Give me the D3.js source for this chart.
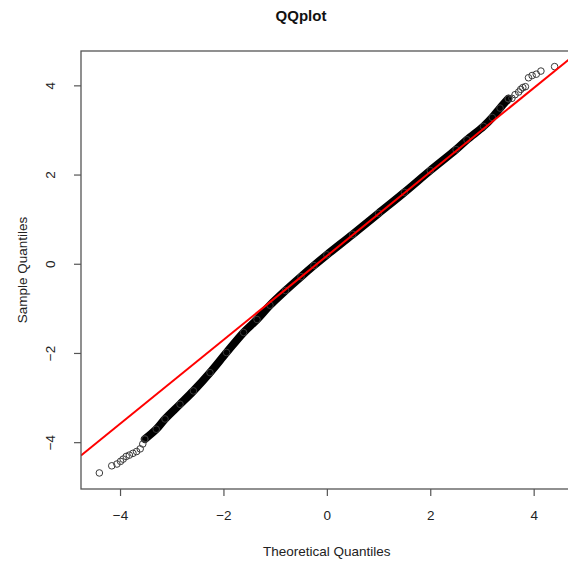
<!DOCTYPE html>
<html>
<head>
<meta charset="utf-8">
<script src="https://cdn.jsdelivr.net/npm/d3@7"></script>
<style>
  body { margin: 0; background: #fff; }
  text { font-family: "Liberation Sans", Arial, Helvetica, sans-serif; }
</style>
</head>
<body>
<div id="chart"></div>
<script>
// Tail points (theoretical, sample)
const lowerTailX = [-4.40, -4.16, -4.06, -3.99, -3.94, -3.88, -3.82, -3.75, -3.68, -3.61, -3.56, -3.52];
const lowerTailY = [-4.69, -4.53, -4.49, -4.43, -4.38, -4.32, -4.29, -4.25, -4.21, -4.15, -4.04, -3.93];
const upperTailX = [3.51, 3.58, 3.64, 3.71, 3.75, 3.79, 3.84, 3.90, 3.97, 4.05, 4.14, 4.405];
const upperTailY = [3.70, 3.71, 3.79, 3.85, 3.91, 3.95, 3.97, 4.17, 4.22, 4.25, 4.32, 4.42];

// Dense band of overlapping points (centre of band)
const bandX = [-3.52, -3.30, -3.13, -2.84, -2.58, -2.26, -1.94, -1.61, -1.35, -1.10, -0.80, -0.50, -0.25, 0.00, 0.50, 1.00, 1.50, 2.00, 2.50, 2.71, 3.03, 3.20, 3.35, 3.51];
const bandY = [-3.93, -3.71, -3.48, -3.15, -2.85, -2.44, -1.99, -1.54, -1.25, -0.93, -0.60, -0.29, -0.04, 0.20, 0.66, 1.13, 1.60, 2.09, 2.56, 2.78, 3.08, 3.28, 3.49, 3.70];

// qqline: intercept and slope
const lineIntercept = 0.175;
const lineSlope = 0.941;

const xTicks = [-4, -2, 0, 2, 4];
const yTicks = [-4, -2, 0, 2, 4];
const title = 'QQplot';
const xLabel = 'Theoretical Quantiles';
const yLabel = 'Sample Quantiles';

const widthContainer = 568;
const heightContainer = 564;
const plot = {left: 81, top: 51, right: 572.7, bottom: 489};

const svg = d3.select('#chart')
  .append('svg')
  .attr('width', widthContainer)
  .attr('height', heightContainer);

const xScale = d3.scaleLinear()
  .domain([-4.755, 4.755])
  .range([plot.left, plot.right]);

const yScale = d3.scaleLinear()
  .domain([-5.05, 4.77])
  .range([plot.bottom, plot.top]);

svg.append('clipPath')
  .attr('id', 'clip')
  .append('rect')
  .attr('x', plot.left)
  .attr('y', plot.top)
  .attr('width', plot.right - plot.left)
  .attr('height', plot.bottom - plot.top);

const layer = svg.append('g').attr('clip-path', 'url(#clip)');

// Band
const bandData = bandX.map((x, i) => ({x: x, y: bandY[i]}));
layer.append('path')
  .datum(bandData)
  .attr('fill', 'none')
  .attr('stroke', '#000')
  .attr('stroke-width', 8)
  .attr('stroke-linecap', 'round')
  .attr('stroke-linejoin', 'round')
  .attr('d', d3.line().x(d => xScale(d.x)).y(d => yScale(d.y)).curve(d3.curveCatmullRom));

// Points
const tailData = lowerTailX.map((x, i) => ({x: x, y: lowerTailY[i]}))
  .concat(upperTailX.map((x, i) => ({x: x, y: upperTailY[i]})));

layer.selectAll('.pt')
  .data(tailData.concat(bandData))
  .enter()
  .append('circle')
  .attr('class', 'pt')
  .attr('cx', d => xScale(d.x))
  .attr('cy', d => yScale(d.y))
  .attr('r', 3.3)
  .attr('fill', 'none')
  .attr('stroke', '#3a3a3a')
  .attr('stroke-width', 1);

// qqline
const xd = xScale.domain();
layer.append('line')
  .attr('x1', xScale(xd[0]))
  .attr('y1', yScale(lineIntercept + lineSlope * xd[0]))
  .attr('x2', xScale(xd[1]))
  .attr('y2', yScale(lineIntercept + lineSlope * xd[1]))
  .attr('stroke', '#ff0000')
  .attr('stroke-width', 2);

// Box
svg.append('rect')
  .attr('x', plot.left)
  .attr('y', plot.top)
  .attr('width', plot.right - plot.left)
  .attr('height', plot.bottom - plot.top)
  .attr('fill', 'none')
  .attr('stroke', '#555')
  .attr('stroke-width', 1.3);

// x-axis
const xAxis = svg.append('g')
  .attr('transform', `translate(0, ${plot.bottom})`)
  .call(d3.axisBottom(xScale).tickValues(xTicks).tickSize(7).tickPadding(14).tickFormat(d => d < 0 ? '\u2212' + Math.abs(d) : d));
xAxis.select('.domain').remove();
xAxis.selectAll('line').attr('stroke', '#555').attr('stroke-width', 1.2);
xAxis.selectAll('text').style('font-size', '13.5px').attr('fill', '#222')
  .attr('font-family', '"Liberation Sans", Arial, sans-serif');

// y-axis
const yAxis = svg.append('g')
  .attr('transform', `translate(${plot.left}, 0)`)
  .call(d3.axisLeft(yScale).tickValues(yTicks).tickSize(7));
yAxis.select('.domain').remove();
yAxis.selectAll('line').attr('stroke', '#555').attr('stroke-width', 1.2);
yAxis.selectAll('text').remove();
yAxis.selectAll('.tick')
  .append('text')
  .attr('transform', 'translate(-26, 0) rotate(-90)')
  .attr('text-anchor', 'middle')
  .attr('fill', '#222')
  .style('font-size', '13.5px')
  .text(d => d < 0 ? '\u2212' + Math.abs(d) : d);

// Title and labels
svg.append('text')
  .attr('x', 301)
  .attr('y', 21)
  .attr('text-anchor', 'middle')
  .style('font-size', '15px')
  .style('font-weight', 'bold')
  .attr('fill', '#111')
  .text(title);

svg.append('text')
  .attr('x', (plot.left + plot.right) / 2)
  .attr('y', 556)
  .attr('text-anchor', 'middle')
  .style('font-size', '13.5px')
  .attr('fill', '#222')
  .text(xLabel);

svg.append('text')
  .attr('transform', `translate(27, ${(plot.top + plot.bottom) / 2}) rotate(-90)`)
  .attr('text-anchor', 'middle')
  .style('font-size', '13.5px')
  .attr('fill', '#222')
  .text(yLabel);
</script>
</body>
</html>
